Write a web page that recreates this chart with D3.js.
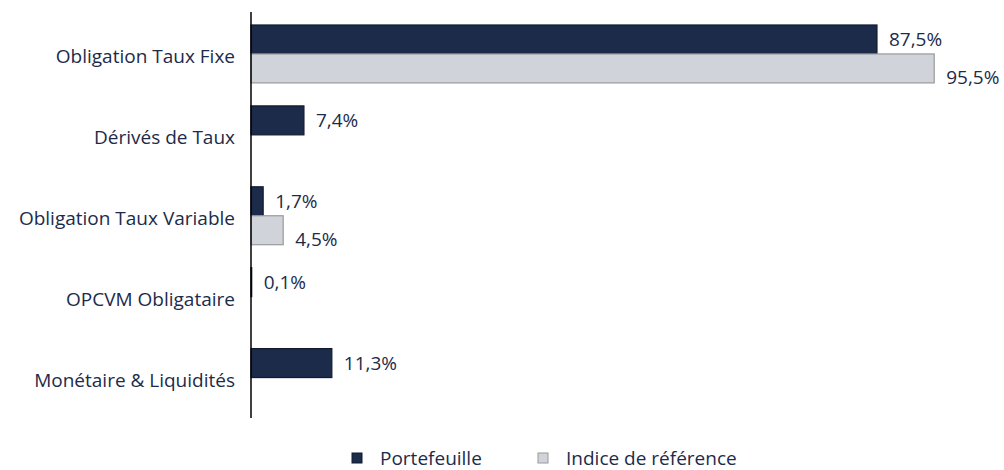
<!DOCTYPE html>
<html><head><meta charset="utf-8">
<script src="https://cdn.jsdelivr.net/npm/d3@7"></script>
<style>
body{margin:0;background:#fff;}
text{font-family:"Open Sans",sans-serif;}
</style></head>
<body><svg id="c" width="1004" height="470"></svg>
<script>
const categories = ["Obligation Taux Fixe","Dérivés de Taux","Obligation Taux Variable","OPCVM Obligataire","Monétaire & Liquidités"];
const seriesNames = ["Portefeuille","Indice de référence"];
const portefeuille = [87.5, 7.4, 1.7, 0.1, 11.3];
const indice = [95.5, null, 4.5, null, null];
const fmt = v => d3.format(".1f")(v).replace(".", ",") + "%";

const colors = {"Portefeuille":"#1c2b4a","Indice de référence":"#d0d3d9"};
const strokes = {"Portefeuille":"#111a30","Indice de référence":"#9a9a9a"};
const textColor = "#1c2b4a";
const fs = 19;

const svg = d3.select("#c");
const x0 = 251;
const x = d3.scaleLinear().domain([0, 100]).range([x0, x0 + 715.4]);
const y = d3.scaleBand().domain(categories).range([13.5, 418]).paddingInner(0.284).paddingOuter(0.142);
const ySub = d3.scaleBand().domain(seriesNames).range([0, y.bandwidth()]);

const data = [];
categories.forEach((c,i)=>{
  [portefeuille, indice].forEach((arr,j)=>{
    if(arr[i]!=null) data.push({cat:c, series:seriesNames[j], value:arr[i]});
  });
});

const g = svg.append("g");
g.selectAll("rect.bar").data(data).join("rect")
  .attr("class","bar")
  .attr("x", x(0))
  .attr("y", d => y(d.cat) + ySub(d.series))
  .attr("width", d => x(d.value) - x(0))
  .attr("height", ySub.bandwidth())
  .attr("fill", d => colors[d.series])
  .attr("stroke", d => strokes[d.series])
  .attr("stroke-width", 1.2);

g.selectAll("text.lbl").data(data).join("text")
  .attr("class","lbl")
  .attr("x", d => x(d.value) + 12)
  .attr("y", d => y(d.cat) + ySub(d.series) + ySub.bandwidth()/2 + (d.series === seriesNames[1] ? 9 : 0))
  .attr("dy","0.35em")
  .attr("fill", textColor)
  .attr("font-size", fs)
  .text(d => fmt(d.value));

// axis
const axis = d3.axisLeft(y).tickSize(0).tickPadding(16);
const ag = svg.append("g").attr("transform", `translate(${x0},0)`).call(axis);
ag.select(".domain").attr("stroke","#000").attr("stroke-width",1.5).attr("d", "M0,12V418");
ag.selectAll("text").attr("font-size",fs).attr("fill",textColor).attr("font-family","'Open Sans',sans-serif").attr("dy","0.5em");

// legend
const legX = [352, 538];
const lg = svg.append("g").selectAll("g").data(seriesNames).join("g")
  .attr("transform",(d,i)=>`translate(${legX[i]},453)`);
lg.append("rect").attr("width",10).attr("height",10)
  .attr("fill", d => colors[d]).attr("stroke", d => strokes[d]);
lg.append("text").attr("x",28).attr("y",5).attr("dy","0.38em")
  .attr("font-size",fs).attr("fill",textColor).text(d=>d);
</script></body></html>
